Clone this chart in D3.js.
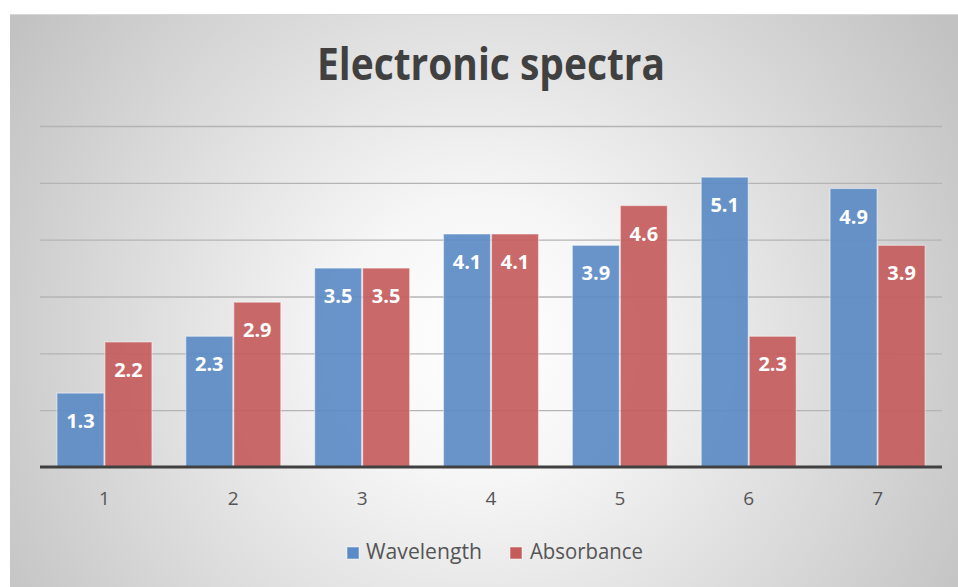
<!DOCTYPE html>
<html><head><meta charset="utf-8">
<script src="https://cdn.jsdelivr.net/npm/d3@7"></script>
<style>html,body{margin:0;padding:0;background:#fff;}svg{display:block;}</style>
</head><body>
<svg id="c" width="958" height="587"></svg>
<script>
const categories = ["1","2","3","4","5","6","7"];
const seriesNames = ["Wavelength","Absorbance"];
const wavelength = [1.3, 2.3, 3.5, 4.1, 3.9, 5.1, 4.9];
const absorbance = [2.2, 2.9, 3.5, 4.1, 4.6, 2.3, 3.9];
const yTicks = [0,1,2,3,4,5,6];
const colors = ["#5b8bc6", "#c55c5c"];

(function(){
const svg = d3.select("#c");
const W = 958, H = 587;
const defs = svg.append("defs");
const rg = defs.append("radialGradient").attr("id","bg")
  .attr("gradientUnits","userSpaceOnUse")
  .attr("cx",480).attr("cy",340).attr("r",560);
rg.append("stop").attr("offset","0%").attr("stop-color","#ffffff");
rg.append("stop").attr("offset","25%").attr("stop-color","#f6f6f6");
rg.append("stop").attr("offset","100%").attr("stop-color","#c2c2c2");

svg.append("rect").attr("x",10).attr("y",14).attr("width",W-10).attr("height",H-14)
  .attr("fill","url(#bg)");
svg.append("line").attr("x1",10).attr("x2",W).attr("y1",14.5).attr("y2",14.5)
  .attr("stroke","#d8d8d8").attr("stroke-width",1);

const pL = 40, pR = 942, pT = 126, pB = 467;
const x = d3.scaleBand().domain(categories).range([pL,pR]).paddingInner(0.255).paddingOuter(0.1275);
const xs = d3.scaleBand().domain(seriesNames).range([0,x.bandwidth()]).padding(0);
const y = d3.scaleLinear().domain([0,6]).range([pB,pT]);

// gridlines
const grid = svg.append("g").attr("transform",`translate(${pL},0)`)
  .call(d3.axisLeft(y).tickValues(yTicks.slice(1)).tickSize(-(pR-pL)).tickFormat(""));
grid.select(".domain").remove();
grid.selectAll("line").attr("stroke","#b4b4b4").attr("stroke-width",1.3);

const data = categories.map((c,i)=>({cat:c, vals:[wavelength[i], absorbance[i]]}));
const g = svg.append("g");
data.forEach(d=>{
  d.vals.forEach((v,j)=>{
    const bx = x(d.cat)+xs(seriesNames[j]);
    g.append("rect").attr("x",bx+0.5).attr("y",y(v)).attr("width",xs.bandwidth()-1).attr("height",y(0)-y(v))
      .attr("fill",colors[j]).attr("fill-opacity",0.92)
      .attr("stroke","#ffffff").attr("stroke-opacity",0.45).attr("stroke-width",1.2);
    g.append("text").attr("x",bx+xs.bandwidth()/2).attr("y",y(v)+35)
      .attr("text-anchor","middle").attr("fill","#ffffff")
      .attr("font-family","Open Sans, sans-serif").attr("font-weight","bold").attr("font-size",20)
      .text(v.toFixed(1));
  });
});

// x axis
const xa = svg.append("g").attr("transform",`translate(0,${pB})`)
  .call(d3.axisBottom(x).tickSize(0).tickPadding(25));
xa.select(".domain").remove();
xa.selectAll("text").attr("font-family","Open Sans, sans-serif").attr("font-size",19).attr("fill","#555");
svg.append("line").attr("x1",pL).attr("x2",pR).attr("y1",pB).attr("y2",pB)
  .attr("stroke","#404040").attr("stroke-width",3);

// title
svg.append("text").attr("x",491).attr("y",80).attr("text-anchor","middle")
  .attr("font-family","Open Sans, sans-serif").attr("font-weight","bold").attr("font-size",44)
  .attr("fill","#404040").attr("textLength",348).attr("lengthAdjust","spacingAndGlyphs")
  .text("Electronic spectra");

// legend
const leg = [{name:seriesNames[0], x:347, tx:366, tl:116, c:colors[0]},{name:seriesNames[1], x:510, tx:530, tl:113, c:colors[1]}];
leg.forEach(l=>{
  svg.append("rect").attr("x",l.x).attr("y",547).attr("width",12).attr("height",12)
    .attr("fill",l.c).attr("stroke","#fff").attr("stroke-opacity",0.5);
  svg.append("text").attr("x",l.tx).attr("y",559)
    .attr("font-family","Open Sans, sans-serif").attr("font-size",21).attr("fill","#555")
    .attr("textLength",l.tl).attr("lengthAdjust","spacingAndGlyphs")
    .text(l.name);
});
})();
</script>
</body></html>
